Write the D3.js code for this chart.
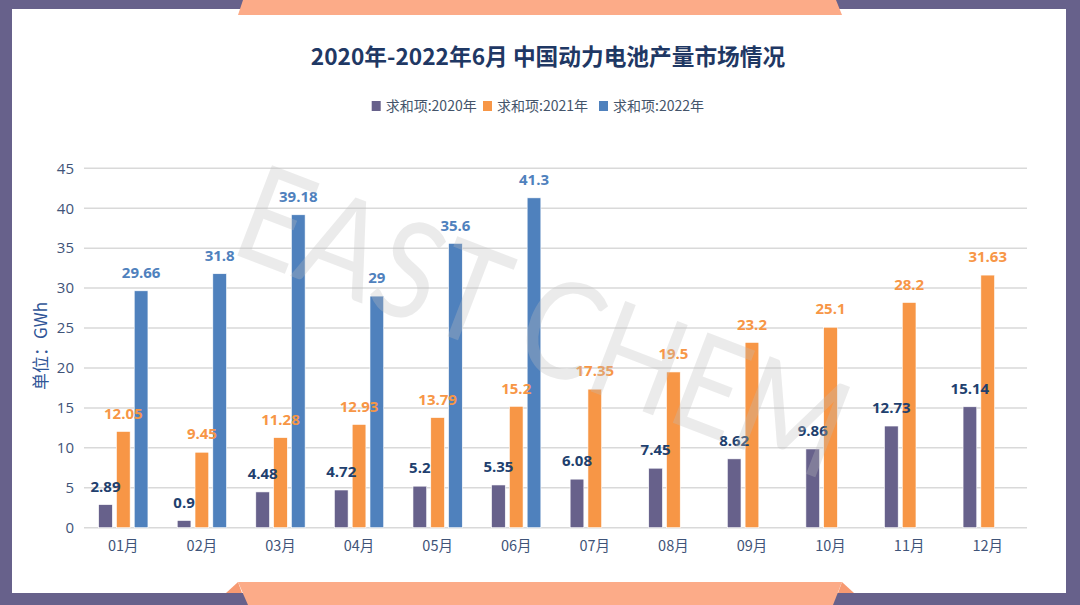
<!DOCTYPE html>
<html>
<head>
<meta charset="utf-8">
<script src="https://cdn.jsdelivr.net/npm/d3@7"></script>
<style>
  html, body { margin: 0; padding: 0; background: #ffffff; }
  svg { display: block; }
</style>
</head>
<body>
<svg id="chart" width="1080" height="605"></svg>
<script>
const months = ["01月","02月","03月","04月","05月","06月","07月","08月","09月","10月","11月","12月"];
const seriesNames = ["求和项:2020年","求和项:2021年","求和项:2022年"];
const values2020 = [2.89, 0.9, 4.48, 4.72, 5.2, 5.35, 6.08, 7.45, 8.62, 9.86, 12.73, 15.14];
const values2021 = [12.05, 9.45, 11.28, 12.93, 13.79, 15.2, 17.35, 19.5, 23.2, 25.1, 28.2, 31.63];
const values2022 = [29.66, 31.8, 39.18, 29, 35.6, 41.3, null, null, null, null, null, null];
const yTicks = [0, 5, 10, 15, 20, 25, 30, 35, 40, 45];
const titleText = "2020年-2022年6月 中国动力电池产量市场情况";
const yAxisTitle = "单位：GWh";
const watermarkText = "EAST CHEM";

const barColors = ["#67618b", "#f79646", "#4f81bd"];
const labelColors = ["#213f6e", "#f79646", "#4f81bd"];
const seriesValues = [values2020, values2021, values2022];

const svg = d3.select("#chart");
const W = 1080, H = 605;
const cjk = "'Noto Sans CJK SC', 'Noto Sans', sans-serif";
const num = "'Open Sans', 'Noto Sans', sans-serif";

// frame
svg.append("rect").attr("x",0).attr("y",0).attr("width",W).attr("height",H).attr("fill","#67618b");
svg.append("rect").attr("x",12).attr("y",9).attr("width",1054).attr("height",584).attr("fill","#ffffff");
svg.append("polygon").attr("points","243,0 836,0 842,15 238,15").attr("fill","#fcab88");
svg.append("polygon").attr("points","226,593 238,582 242,593").attr("fill","#f79a72");
svg.append("polygon").attr("points","854,593 842,582 838,593").attr("fill","#f79a72");
svg.append("polygon").attr("points","238,582 842,582 833,605 248,605").attr("fill","#fcab88");

// scales
const plotLeft = 84, plotRight = 1027;
const y = d3.scaleLinear().domain([0,45]).range([527.7,168.3]);
const x0 = d3.scaleBand().domain(months).range([plotLeft, plotRight]).padding(0);
const x1 = d3.scaleBand().domain(d3.range(3)).range([-24.65, 24.65]).paddingInner(0.23).paddingOuter(0);

// gridlines
svg.append("g").selectAll("line").data(yTicks).join("line")
  .attr("x1", plotLeft).attr("x2", plotRight)
  .attr("y1", d => y(d)).attr("y2", d => y(d))
  .attr("stroke", "#d9d9d9").attr("stroke-width", 1.5);

// y axis tick labels
const yAxis = d3.axisLeft(y).tickValues(yTicks).tickSize(0).tickPadding(10);
const yg = svg.append("g").attr("transform", `translate(${plotLeft},0)`).call(yAxis);
yg.select(".domain").remove();
yg.selectAll("text").attr("font-family", num).attr("font-size", 15).attr("fill", "#3f5479");

// x axis labels
const xAxis = d3.axisBottom(x0).tickSize(0).tickPadding(13);
const xg = svg.append("g").attr("transform", `translate(0,${y(0)})`).call(xAxis);
xg.select(".domain").remove();
xg.selectAll("text").attr("font-family", cjk).attr("font-size", 14.5).attr("fill", "#3f5479")
  .attr("dy", "0.71em");

// bars
const groups = svg.append("g").selectAll("g").data(months).join("g")
  .attr("transform", d => `translate(${x0(d) + x0.bandwidth()/2},0)`);

seriesValues.forEach((vals, si) => {
  groups.filter((d,i) => vals[i] != null).append("rect")
    .attr("x", x1(si))
    .attr("width", x1.bandwidth())
    .attr("y", (d) => y(vals[months.indexOf(d)]))
    .attr("height", (d) => y(0) - y(vals[months.indexOf(d)]))
    .attr("fill", barColors[si])
    .attr("stroke", "#ffffff").attr("stroke-width", 0.6);
});

// watermark (on top, translucent)
svg.append("text")
  .attr("transform", "translate(545,318) rotate(21)")
  .attr("text-anchor", "middle")
  .attr("dominant-baseline", "central")
  .attr("font-family", "Lato, 'DejaVu Sans', sans-serif")
  .attr("font-weight", 400)
  .attr("font-size", 135)
  .attr("textLength", 640)
  .attr("lengthAdjust", "spacingAndGlyphs")
  .attr("fill", "#bfbfbf")
  .attr("opacity", 0.3)
  .text(watermarkText);

// data labels
seriesValues.forEach((vals, si) => {
  groups.filter((d,i) => vals[i] != null).append("text")
    .attr("x", x1(si) + x1.bandwidth()/2)
    .attr("y", d => y(vals[months.indexOf(d)]) - 18)
    .attr("dy", "0.35em")
    .attr("text-anchor", "middle")
    .attr("font-family", num)
    .attr("font-weight", 700)
    .attr("font-size", 15)
    .attr("fill", labelColors[si])
    .text(d => vals[months.indexOf(d)]);
});

// title
svg.append("text").attr("x", 548).attr("y", 57).attr("dy","0.35em")
  .attr("text-anchor","middle").attr("font-family", cjk).attr("font-weight",700)
  .attr("font-size", 22.7).attr("fill","#1f3864").text(titleText);

// legend
const legendX = [371.7, 483, 599];
const lg = svg.append("g").selectAll("g").data(seriesNames).join("g")
  .attr("transform", (d,i) => `translate(${legendX[i]},106)`);
lg.append("rect").attr("x",0).attr("y",-5).attr("width",9).attr("height",10)
  .attr("fill", (d,i) => barColors[i]);
lg.append("text").attr("x",14).attr("dy","0.35em").attr("font-family", cjk)
  .attr("font-size",14).attr("fill","#44546a").text(d => d);

// y axis title
svg.append("text").attr("transform","translate(41,346) rotate(-90)")
  .attr("text-anchor","middle").attr("dy","0.35em").attr("font-family", cjk)
  .attr("font-size",17).attr("fill","#2f5597").text(yAxisTitle);
</script>
</body>
</html>
